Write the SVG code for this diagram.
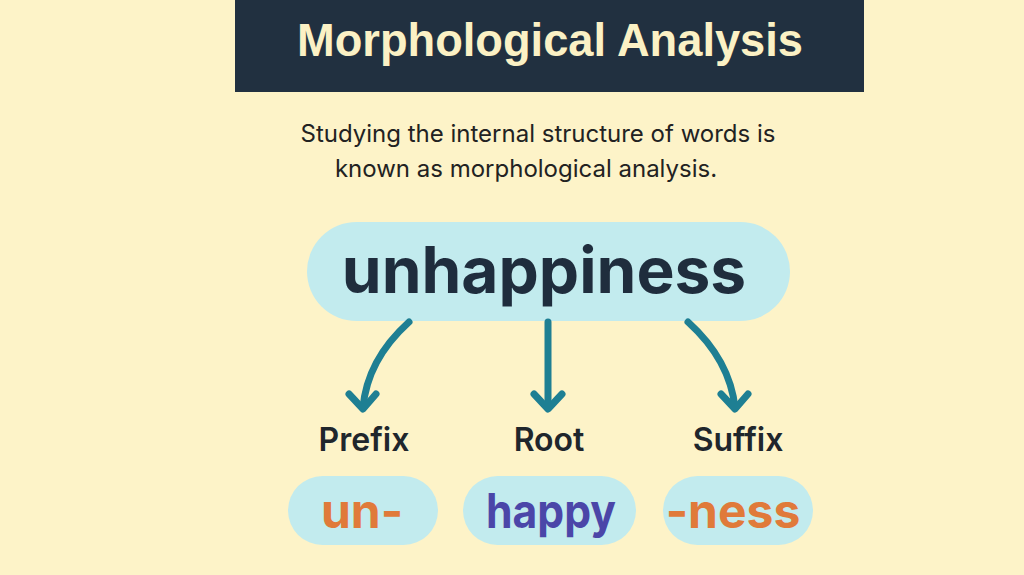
<svg xmlns="http://www.w3.org/2000/svg" width="1024" height="575" viewBox="0 0 1024 575">
<style>
.pill{fill:#C2EBEE}
.conn{fill:none;stroke:#1E7F93;stroke-width:7;stroke-linecap:round;stroke-linejoin:round}
.lbl{font-family:Inter,"Liberation Sans",sans-serif;font-weight:600;font-size:32px;fill:#1F262C;text-anchor:middle}
.part{font-family:Inter,"Liberation Sans",sans-serif;font-weight:700;font-size:48px;text-anchor:middle}
</style>
<rect width="1024" height="575" fill="#FDF3C8"/>
<g id="title">
<rect x="235" y="0" width="629" height="92" fill="#213040"/>
<text x="550" y="56" font-family="'Liberation Sans',Arial,sans-serif" font-weight="700" font-size="46" fill="#FBF1C5" text-anchor="middle" textLength="506" lengthAdjust="spacingAndGlyphs">Morphological Analysis</text>
</g>
<g id="subtitle" font-family="Inter,'Liberation Sans',sans-serif" font-size="24" fill="#222" text-anchor="middle">
<text x="538" y="142">Studying the internal structure of words is</text>
<text x="526" y="177">known as morphological analysis.</text>
</g>
<g id="word">
<rect class="pill" x="307" y="222" width="483" height="99" rx="49.5"/>
<text x="544" y="293" font-family="Inter,'Liberation Sans',sans-serif" font-weight="700" font-size="64" fill="#1F2D3D" text-anchor="middle">unhappiness</text>
</g>
<g id="connectors">
<path class="conn" d="M409,322 Q367,360 363,408"/>
<path class="conn" d="M349,394 L363,409 L376,394"/>
<path class="conn" d="M548,322 L548,408"/>
<path class="conn" d="M534,394 L548,409 L562,394"/>
<path class="conn" d="M688,322 Q730,360 735,408"/>
<path class="conn" d="M721,394 L735,409 L748,394"/>
</g>
<g id="prefix">
<text class="lbl" x="364" y="451">Prefix</text>
<rect class="pill" x="288" y="476" width="150" height="69" rx="34.5"/>
<text class="part" x="362" y="528" fill="#E07A3A">un-</text>
</g>
<g id="root">
<text class="lbl" x="549" y="451">Root</text>
<rect class="pill" x="463" y="476" width="173" height="69" rx="34.5"/>
<text class="part" x="551" y="528" fill="#4B46A8" textLength="130" lengthAdjust="spacingAndGlyphs">happy</text>
</g>
<g id="suffix">
<text class="lbl" x="738" y="451">Suffix</text>
<rect class="pill" x="663" y="476" width="150" height="69" rx="34.5"/>
<text class="part" x="733" y="528" fill="#E07A3A">-ness</text>
</g>
</svg>
